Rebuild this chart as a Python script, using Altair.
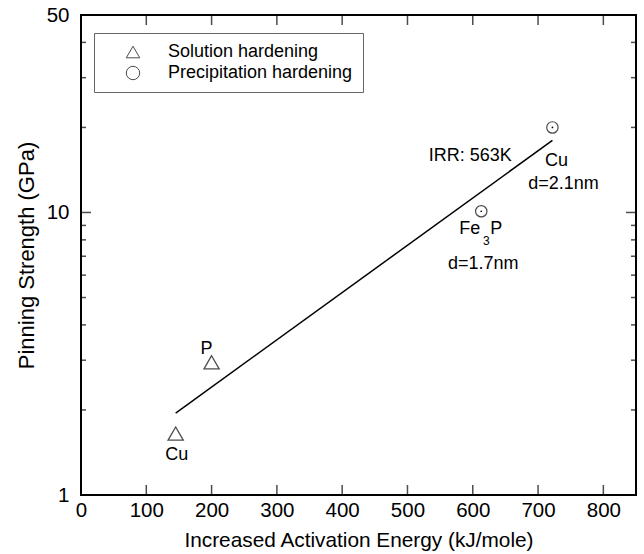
import altair as alt
import pandas as pd

FONT = "Liberation Sans"
W, H = 555, 480

# Measured points: increased activation energy (kJ/mole) vs pinning strength (GPa)
sol_energy = [145, 200]
sol_strength = [1.65, 2.95]
sol_names = ["Cu", "P"]

pre_energy = [613, 722]
pre_strength = [10.1, 20.0]

# Fitted trend line end points
fit_energy = [145, 722]
fit_strength = [1.95, 18.0]

# Axis ticks
x_labels = [0, 100, 200, 300, 400, 500, 600, 700, 800]
x_ticks = [100, 200, 300, 400, 500, 600, 700, 800]
y_major = [10]
y_minor = [2, 3, 4, 5, 6, 7, 8, 9, 20, 30, 40]
y_labels = [1, 10, 50]

# Free-standing note
note_text = ["IRR: 563K"]
note_energy = [596]
note_strength = [15.85]

types = ["Solution hardening", "Precipitation hardening"]

xs = alt.Scale(domain=[0, 850], nice=False, zero=False)
ys = alt.Scale(type="log", domain=[1, 50], nice=False)

x_axis = alt.Axis(
    title="Increased Activation Energy (kJ/mole)", values=x_labels,
    format="d", domain=False, ticks=False, grid=False, labelPadding=5, labelFlush=False,
    labelFont=FONT, labelFontSize=20.5, labelColor="black",
    titleFont=FONT, titleFontSize=20.8, titleFontWeight="normal", titleColor="black", titlePadding=10,
)
y_axis = alt.Axis(
    title="Pinning Strength (GPa)", values=y_labels, format="d",
    domain=False, ticks=False, grid=False, labelPadding=12, labelFlush=False,
    labelFont=FONT, labelFontSize=20.5, labelColor="black",
    titleFont=FONT, titleFontSize=22, titleFontWeight="normal", titleColor="black", titlePadding=8,
)


def X(field="x"):
    return alt.X(f"{field}:Q", scale=xs, axis=x_axis)


def Y(field="y"):
    return alt.Y(f"{field}:Q", scale=ys, axis=y_axis)


shape_scale = alt.Scale(domain=types, range=["triangle-up", "circle"])
legend = alt.Legend(
    title=None, orient="none", legendX=13, legendY=18,
    strokeColor="#666666", fillColor="white", padding=10,
    labelFont=FONT, labelFontSize=18, labelColor="black", labelLimit=400,
    symbolSize=180, symbolStrokeColor="black", symbolStrokeWidth=1,
    symbolFillColor="transparent", symbolOffset=20, labelOffset=26,
    rowPadding=3,
)

sol_df = pd.DataFrame({"x": sol_energy, "y": sol_strength, "t": [types[0]] * 2, "n": sol_names})
pre_df = pd.DataFrame({"x": pre_energy, "y": pre_strength, "t": [types[1]] * 2})
fit_df = pd.DataFrame({"x": fit_energy, "y": fit_strength})

fit = alt.Chart(fit_df).mark_line(color="black", strokeWidth=1.5).encode(x=X(), y=Y())

sol_pts = alt.Chart(sol_df).mark_point(filled=False, color="black", size=230, strokeWidth=1.3).encode(
    x=X(), y=Y(), shape=alt.Shape("t:N", scale=shape_scale, legend=legend)
)
pre_pts = alt.Chart(pre_df).mark_point(filled=False, color="black", size=130, strokeWidth=1.2).encode(
    x=X(), y=Y(), shape=alt.Shape("t:N", scale=shape_scale, legend=legend)
)
pre_dots = alt.Chart(pre_df).mark_circle(color="black", size=3, opacity=1).encode(x=X(), y=Y())


def label(text, x, y, dx, dy, size=18, align="center"):
    df = pd.DataFrame({"x": [x], "y": [y], "s": [text]})
    return alt.Chart(df).mark_text(
        font=FONT, fontSize=size, color="black", align=align, baseline="middle", dx=dx, dy=dy
    ).encode(x=X(), y=Y(), text="s:N")


labels = [
    label(sol_names[0], sol_energy[0], sol_strength[0], 1, 21),
    label(sol_names[1], sol_energy[1], sol_strength[1], -5, -13),
    label("Cu", pre_energy[1], pre_strength[1], 4, 34),
    label("d=2.1nm", pre_energy[1], pre_strength[1], 11, 57),
    label("Fe", pre_energy[0], pre_strength[0], -1, 18, align="right"),
    label("3", pre_energy[0], pre_strength[0], 5, 30, size=12),
    label("P", pre_energy[0], pre_strength[0], 9, 18, align="left"),
    label("d=1.7nm", pre_energy[0], pre_strength[0], 2, 53),
    label(note_text[0], note_energy[0], note_strength[0], 0, 0),
]

# Inward tick marks on all four sides of the frame
xt_df = pd.DataFrame({"x": x_ticks})
ymaj_df = pd.DataFrame({"y": y_major})
ymin_df = pd.DataFrame({"y": y_minor})
ticks = [
    alt.Chart(xt_df).mark_tick(orient="vertical", size=10, thickness=1.5, color="black")
    .encode(x=X(), y=alt.value(H - 5)),
    alt.Chart(xt_df).mark_tick(orient="vertical", size=10, thickness=1.5, color="black")
    .encode(x=X(), y=alt.value(5)),
    alt.Chart(ymaj_df).mark_tick(orient="horizontal", size=10, thickness=1.5, color="black")
    .encode(y=Y(), x=alt.value(5)),
    alt.Chart(ymaj_df).mark_tick(orient="horizontal", size=10, thickness=1.5, color="black")
    .encode(y=Y(), x=alt.value(W - 5)),
    alt.Chart(ymin_df).mark_tick(orient="horizontal", size=5, thickness=1.5, color="black")
    .encode(y=Y(), x=alt.value(2.5)),
    alt.Chart(ymin_df).mark_tick(orient="horizontal", size=5, thickness=1.5, color="black")
    .encode(y=Y(), x=alt.value(W - 2.5)),
]

chart = alt.layer(fit, *ticks, sol_pts, pre_pts, pre_dots, *labels).properties(
    width=W, height=H,
    autosize=alt.AutoSizeParams(type="none"),
    padding={"left": 81, "top": 15, "right": 8, "bottom": 59},
    background="white",
).configure_view(stroke="black", strokeWidth=2)

chart.save("out.html", embed_options={"renderer": "svg", "actions": False})
